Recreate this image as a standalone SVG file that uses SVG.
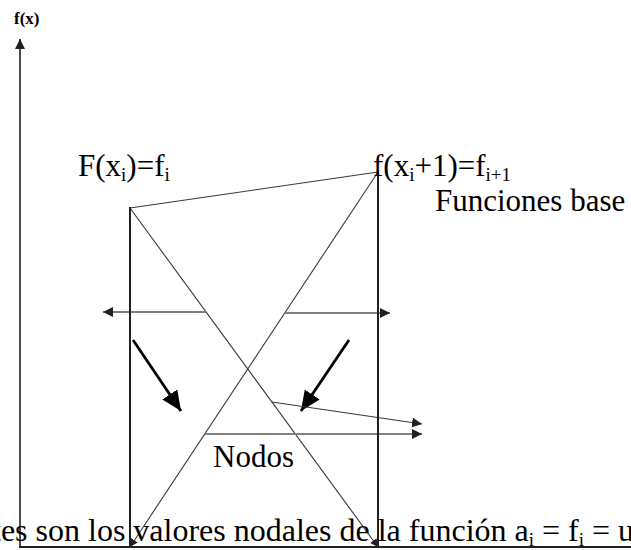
<svg xmlns="http://www.w3.org/2000/svg" width="631" height="550" viewBox="0 0 631 550">
<style>
  text { font-family: "Liberation Serif", "Times New Roman", serif; fill: #000; }
  .lbl { font-size: 31px; }
  .cap { font-size: 32px; }
  .sub { font-size: 19px; }
  .frame { stroke: #231f20; stroke-width: 2; fill: none; }
  .thin { stroke: #3a3a3a; stroke-width: 1.1; fill: none; }
  .gray { stroke: #808080; stroke-width: 1.8; fill: none; }
  .thick { stroke: #000; stroke-width: 2.8; fill: none; }
</style>
<defs>
  <marker id="ah" markerUnits="userSpaceOnUse" markerWidth="12" markerHeight="10" refX="10" refY="5" orient="auto">
    <path d="M0,0 L10,5 L0,10 Z" fill="#231f20"/>
  </marker>
  <marker id="ahs" markerUnits="userSpaceOnUse" markerWidth="10" markerHeight="10" refX="8" refY="4" orient="auto">
    <path d="M0,0 L8,4 L0,8 Z" fill="#231f20"/>
  </marker>
  <marker id="ahb" markerUnits="userSpaceOnUse" markerWidth="22" markerHeight="20" refX="20" refY="9" orient="auto">
    <path d="M0,0 L20,9 L0,18 Z" fill="#000"/>
  </marker>
</defs>

<g id="axes">
  <line x1="20" y1="547" x2="20" y2="39" stroke="#231f20" stroke-width="1.6" marker-end="url(#ah)"/>
  <line x1="19" y1="547" x2="631" y2="547" class="frame"/>
  <text x="14" y="24" font-size="17" font-weight="bold">f(x)</text>
</g>

<g id="connectors">
  <line x1="130" y1="208" x2="378" y2="172" class="thin"/>
  <line x1="130" y1="208" x2="378" y2="547" class="thin" marker-end="url(#ahs)"/>
  <line x1="378" y1="172" x2="130" y2="547" class="thin" marker-end="url(#ahs)"/>
  <line x1="206" y1="312" x2="103" y2="312" class="gray" marker-end="url(#ah)"/>
  <line x1="285" y1="313" x2="390" y2="313" class="gray" marker-end="url(#ah)"/>
  <line x1="133" y1="340" x2="181" y2="411" class="thick" marker-end="url(#ahb)"/>
  <line x1="349" y1="340" x2="301" y2="411" class="thick" marker-end="url(#ahb)"/>
  <line x1="272" y1="402" x2="422" y2="424" class="thin" marker-end="url(#ah)"/>
  <line x1="205" y1="434" x2="422" y2="434" class="gray" marker-end="url(#ah)"/>
</g>

<g id="node-left">
  <line x1="130" y1="207" x2="130" y2="547" class="frame"/>
  <text class="lbl" x="78" y="176">F(x<tspan class="sub" dy="5">i</tspan><tspan dy="-5">)=f</tspan><tspan class="sub" dy="5">i</tspan></text>
</g>

<g id="node-right">
  <line x1="378" y1="171" x2="378" y2="547" class="frame"/>
  <text class="lbl" x="373" y="176">f(x<tspan class="sub" dy="5">i</tspan><tspan dy="-5">+1)=f</tspan><tspan class="sub" dy="5">i+1</tspan></text>
  <text class="lbl" x="435" y="211">Funciones base</text>
</g>

<g id="nodos">
  <text class="lbl" x="213" y="467">Nodos</text>
</g>

<g id="caption">
  <text class="cap" x="-8" y="541">tes son los valores nodales de la función a<tspan class="sub" dy="5">i</tspan><tspan dy="-5"> = f</tspan><tspan class="sub" dy="5">i</tspan><tspan dy="-5"> = u</tspan></text>
</g>
</svg>
